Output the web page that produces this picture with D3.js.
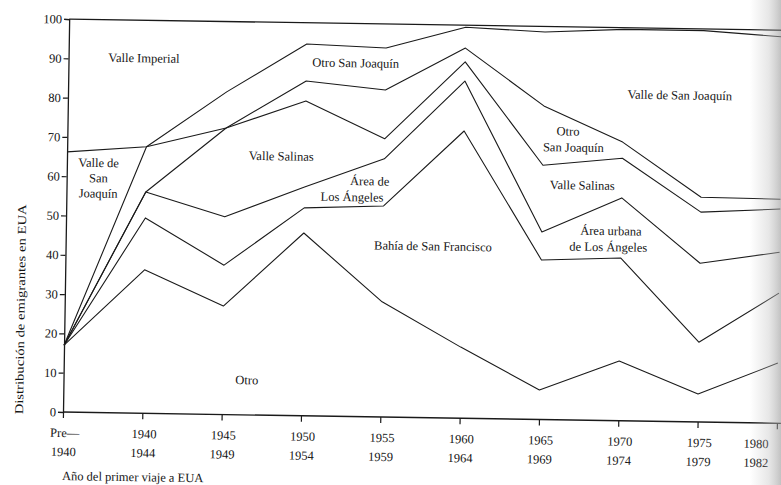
<!DOCTYPE html>
<html><head><meta charset="utf-8">
<script src="https://cdn.jsdelivr.net/npm/d3@7"></script>
<style>
html,body{margin:0;padding:0;background:#fff;}
svg{display:block;}
text{font-family:"Liberation Serif","Times New Roman",serif;fill:#141414;}
</style></head>
<body>
<svg id="chart" width="781" height="485"></svg>
<script>
// ---- data ----
const periods = ["Pre-1940","1940-1944","1945-1949","1950-1954","1955-1959","1960-1964","1965-1969","1970-1974","1975-1979","1980-1982"];
const tickTop = ["Pre—","1940","1945","1950","1955","1960","1965","1970","1975","1980"];
const tickBottom = ["1940","1944","1949","1954","1959","1964","1969","1974","1979","1982"];
const yTicks = [0,10,20,30,40,50,60,70,80,90,100];
// shares (%) of each destination, stacked from the bottom
const otro            = [17.0, 36.5, 27.6, 46.5, 29.3, 18.1,  7.5, 15.2,  7.1, 15.3];
const bahiaSF         = [ 0.0, 13.2, 10.4,  6.4, 24.4, 55.0, 33.1, 26.2, 13.2, 17.8];
const areaLA          = [ 0.0,  6.6, 12.3,  5.3, 12.0, 12.7,  7.1, 15.3, 20.1, 10.4];
const valleSalinas    = [ 0.0,  0.0, 22.6, 21.9,  5.1,  4.9, 17.0, 10.1, 13.0, 11.0];
const otroSanJoaquin  = [ 0.0, 11.5,  0.0,  5.1, 12.4,  3.5, 15.1,  4.1,  3.8,  2.5];
const valleSanJoaquin = [49.2,  0.0,  9.2,  9.4, 10.7,  5.3, 18.8, 28.7, 42.4, 41.3];
const valleImperial   = [33.8, 32.2, 17.9,  5.4,  6.1,  0.5,  1.4,  0.4,  0.4,  1.7];
const seriesNames = ["otro","bahiaSF","areaLA","valleSalinas","otroSanJoaquin","valleSanJoaquin","valleImperial"];
const seriesVals = [otro,bahiaSF,areaLA,valleSalinas,otroSanJoaquin,valleSanJoaquin,valleImperial];

// ---- layout ----
const svg = d3.select("#chart");
const x0 = 63, x1 = 777, yB = 412, yT = 19;
const x = d3.scalePoint().domain(periods).range([x0, x1]);
const xi = d3.scaleLinear().domain([0, periods.length - 1]).range([x0, x1]);
const y = d3.scaleLinear().domain([0, 100]).range([yB, yT]);

const table = periods.map((p, i) => {
  const o = {period: p};
  seriesNames.forEach((n, k) => o[n] = seriesVals[k][i]);
  return o;
});
const stack = d3.stack().keys(seriesNames)(table);

const g = svg.append("g").attr("transform", `rotate(0.9, ${x0}, ${yB})`);

// boundary lines (top of each stacked layer except the last)
const line = d3.line().x(d => x(d.data.period)).y(d => y(d[1]));
stack.slice(0, stack.length - 1).forEach(layer => {
  g.append("path").attr("d", line(layer))
    .attr("fill", "none").attr("stroke", "#1a1a1a").attr("stroke-width", 1.1)
    .attr("stroke-linejoin", "round");
});
// top frame at 100
g.append("line").attr("x1", x0).attr("x2", x1 + 6).attr("y1", y(100)).attr("y2", y(100))
  .attr("stroke", "#1a1a1a").attr("stroke-width", 1.3);

// axes
const yAxis = d3.axisLeft(y).tickValues(yTicks).tickSize(5).tickPadding(2).tickFormat(d3.format("d"));
const ya = g.append("g").attr("transform", `translate(${x0},0)`).call(yAxis);
ya.select(".domain").attr("stroke", "#1a1a1a").attr("stroke-width", 1.3);
ya.selectAll(".tick line").attr("stroke", "#1a1a1a").attr("stroke-width", 1.2);
ya.selectAll(".tick text").style("font-family", "Liberation Serif, serif").style("font-size", "12.5px").attr("fill", "#141414");

const xAxis = d3.axisBottom(x).tickSize(6).tickFormat("");
const xa = g.append("g").attr("transform", `translate(0,${yB})`).call(xAxis);
xa.select(".domain").attr("stroke", "#1a1a1a").attr("stroke-width", 1.3).attr("d", `M${x0},0H${x1 + 4}`);
xa.selectAll(".tick line").attr("stroke", "#1a1a1a").attr("stroke-width", 1.2);

periods.forEach((p, i) => {
  const last = i === periods.length - 1;
  const tx = last ? 781 - 12 : x(p) + 2;
  g.append("text").attr("x", tx).attr("y", yB + 25).attr("text-anchor", last ? "end" : "middle")
    .style("font-size", "12.5px").text(tickTop[i]);
  g.append("text").attr("x", last ? 781 - 12 : x(p) + 1).attr("y", yB + 44).attr("text-anchor", last ? "end" : "middle")
    .style("font-size", "12.5px").text(tickBottom[i]);
});

// axis titles
g.append("text").attr("x", x0).attr("y", yB + 68).style("font-size", "12.5px")
  .text("Año del primer viaje a EUA");
g.append("text").attr("transform", `translate(23,310) rotate(-90)`)
  .attr("text-anchor", "middle").style("font-size", "12px")
  .attr("textLength", 210).attr("lengthAdjust", "spacingAndGlyphs")
  .text("Distribución de emigrantes en EUA");

// region labels (positioned by fractional period index and value)
const labels = [
  ["Valle Imperial", 0.95, 90.4],
  ["Otro San Joaquín", 3.62, 90.0],
  ["Valle de San Joaquín", 7.71, 83.1],
  ["Valle de", 0.40, 63.6], ["San", 0.40, 59.7], ["Joaquín", 0.40, 55.8],
  ["Valle Salinas", 2.70, 66.0],
  ["Área de", 3.82, 60.0], ["Los Ángeles", 3.60, 55.9],
  ["Bahía de San Francisco", 4.63, 43.7],
  ["Otro", 2.31, 8.9],
  ["Otro", 6.31, 73.5], ["San Joaquín", 6.38, 69.4],
  ["Valle Salinas", 6.50, 59.8],
  ["Área urbana", 6.87, 48.3], ["de Los Ángeles", 6.84, 44.2]
];
labels.forEach(([t, ix, v]) => {
  g.append("text").attr("x", xi(ix)).attr("y", y(v)).attr("dy", "0.35em")
    .attr("text-anchor", "middle").style("font-size", "12.5px").text(t);
});

// book gutter shading at the right edge
const defs = svg.append("defs");
const grad = defs.append("linearGradient").attr("id", "gutter").attr("x1", 0).attr("x2", 1);
grad.append("stop").attr("offset", 0).attr("stop-color", "#bbb").attr("stop-opacity", 0);
grad.append("stop").attr("offset", 0.6).attr("stop-color", "#bbb").attr("stop-opacity", 0.35);
grad.append("stop").attr("offset", 1).attr("stop-color", "#999").attr("stop-opacity", 0.6);
svg.append("rect").attr("x", 750).attr("y", 0).attr("width", 31).attr("height", 485).attr("fill", "url(#gutter)");
</script>
</body></html>
